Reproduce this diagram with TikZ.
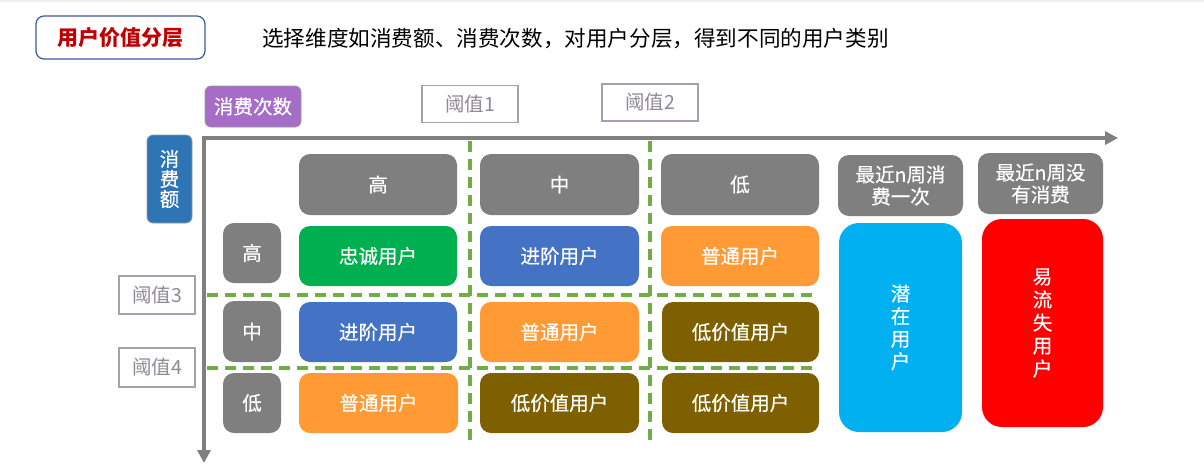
\documentclass[tikz,border=0pt]{standalone}
\usepackage{fontspec}
\newfontfamily\cjk{Noto Sans CJK SC}
\newfontfamily\cjkm{Noto Sans CJK SC}[FakeBold=0.5]
\usetikzlibrary{arrows.meta}
\definecolor{axisgray}{HTML}{808080}
\definecolor{boxgray}{HTML}{7F7F7F}
\definecolor{cgreen}{HTML}{00B050}
\definecolor{cblue}{HTML}{4472C4}
\definecolor{corange}{HTML}{FF9A35}
\definecolor{cbrown}{HTML}{7F6000}
\definecolor{ccyan}{HTML}{00B0F0}
\definecolor{cred}{HTML}{FF0000}
\definecolor{cpurple}{HTML}{A66DC8}
\definecolor{csteel}{HTML}{2E75B6}
\definecolor{dgreen}{HTML}{70AD47}
\definecolor{thrborder}{HTML}{A99FB0}
\definecolor{thrtext}{HTML}{8E8A96}
\definecolor{titleborder}{HTML}{3A5A9A}
\definecolor{titlered}{HTML}{C00000}
\tikzset{
  txt/.style={font=\cjk\fontsize{19.5}{22}\selectfont},
  wtxt/.style={font=\cjkm\fontsize{19.5}{22}\selectfont},
  cellbox/.style={wtxt, rounded corners=11pt, text=white, inner sep=0pt, minimum width=158pt, minimum height=60pt},
  headbox/.style={cellbox, fill=boxgray},
  rowbox/.style={cellbox, fill=boxgray, minimum width=58pt},
  thrbox/.style={txt, draw=thrborder, line width=1.2pt, text=thrtext, inner sep=0pt, minimum width=96pt, minimum height=37pt},
  axisline/.style={draw=axisgray, line width=4.5pt, -{Triangle[length=13pt,width=13pt]}},
  thrline/.style={draw=dgreen, line width=3.3pt, dash pattern=on 11pt off 7pt},
}
\begin{document}
\begin{tikzpicture}[x=1pt,y=-1pt]
\useasboundingbox (0,0) rectangle (1204,467);
\fill[white] (0,0) rectangle (1204,467);
\fill[black!6] (0,0) rectangle (1204,2);

% title
\node[draw=titleborder, line width=1.2pt, rounded corners=8pt, minimum width=169pt, minimum height=43pt, inner sep=0pt,
      font=\cjk\bfseries\fontsize{21}{24}\selectfont, text=titlered] (title) at (120.5,37.5) {用户价值分层};
\node[anchor=west, inner sep=0pt, font=\cjk\fontsize{21.6}{24}\selectfont] (subtitle) at (262,39)
  {选择维度如消费额、消费次数，对用户分层，得到不同的用户类别};

% axis labels
\node[wtxt, fill=cpurple, draw=axisgray!80, line width=0.8pt, rounded corners=6pt, text=white, inner sep=0pt,
      minimum width=96pt, minimum height=41pt] (xlabel) at (253,106.5) {消费次数};
\node[font=\cjkm\fontsize{19.5}{20}\selectfont, fill=csteel, draw=axisgray!80, line width=0.8pt, rounded corners=6pt, text=white, inner sep=0pt,
      minimum width=45pt, minimum height=88pt, align=center] (ylabel) at (169.5,179) {消\\费\\额};

% thresholds
\node[thrbox] (t1) at (470,104) {阈值1};
\node[thrbox] (t2) at (650,102.5) {阈值2};
\node[thrbox, minimum width=76pt, minimum height=38pt] (t3) at (157,295) {阈值3};
\node[thrbox, minimum width=76pt, minimum height=39pt] (t4) at (157,367.5) {阈值4};

% axes
\coordinate (O) at (204,136);
\coordinate (X) at (1118,138);
\coordinate (Y) at (204,463);
\draw[axisline] (202,138) -- (X);
\draw[axisline] (O) -- (Y);

% threshold dashed lines
\coordinate (v1a) at (470,141); \coordinate (v1b) at (470,446);
\coordinate (v2a) at (650,141); \coordinate (v2b) at (650,446);
\coordinate (h1a) at (207,295); \coordinate (h1b) at (812,295);
\coordinate (h2a) at (207,368); \coordinate (h2b) at (812,368);
\draw[thrline] (v1a) -- (v1b);
\draw[thrline] (v2a) -- (v2b);
\draw[thrline] (h1a) -- (h1b);
\draw[thrline] (h2a) -- (h2b);

% column headers
\node[headbox, minimum height=61pt] (ch1) at (378,184.5) {高};
\node[headbox, minimum height=61pt, minimum width=159pt] (ch2) at (559.5,184.5) {中};
\node[headbox, minimum height=61pt] (ch3) at (740,184.5) {低};
\node[headbox, minimum height=61pt, minimum width=125pt, align=center] (ch4) at (900.5,185.5) {最近n周消\\费一次};
\node[headbox, minimum height=61pt, minimum width=125pt, align=center] (ch5) at (1040.5,183.5) {最近n周没\\有消费};

% row headers
\node[rowbox] (rh1) at (252,253) {高};
\node[rowbox, minimum height=61pt] (rh2) at (252,331.5) {中};
\node[rowbox] (rh3) at (252,403) {低};

% cells
\node[cellbox, fill=cgreen] (c11) at (378,256) {忠诚用户};
\node[cellbox, fill=cblue, minimum width=159pt] (c12) at (559.5,256) {进阶用户};
\node[cellbox, fill=corange] (c13) at (740,256) {普通用户};
\node[cellbox, fill=cblue] (c21) at (378,332) {进阶用户};
\node[cellbox, fill=corange, minimum width=159pt] (c22) at (559.5,332) {普通用户};
\node[cellbox, fill=cbrown, minimum width=157pt] (c23) at (740.5,332) {低价值用户};
\node[cellbox, fill=corange, minimum width=159pt] (c31) at (378.5,403) {普通用户};
\node[cellbox, fill=cbrown, minimum width=159pt] (c32) at (559.5,403) {低价值用户};
\node[cellbox, fill=cbrown, minimum width=157pt] (c33) at (740.5,403) {低价值用户};

% right columns
\node[cellbox, fill=ccyan, rounded corners=20pt, minimum width=123pt, minimum height=209pt, align=center,
      font=\cjkm\fontsize{19.5}{22.5}\selectfont] (pot) at (900.5,327.5) {潜\\在\\用\\户};
\node[cellbox, fill=cred, rounded corners=20pt, minimum width=121pt, minimum height=208pt, align=center,
      font=\cjkm\fontsize{19.5}{23}\selectfont] (lost) at (1042.5,323) {易\\流\\失\\用\\户};
\end{tikzpicture}
\end{document}
